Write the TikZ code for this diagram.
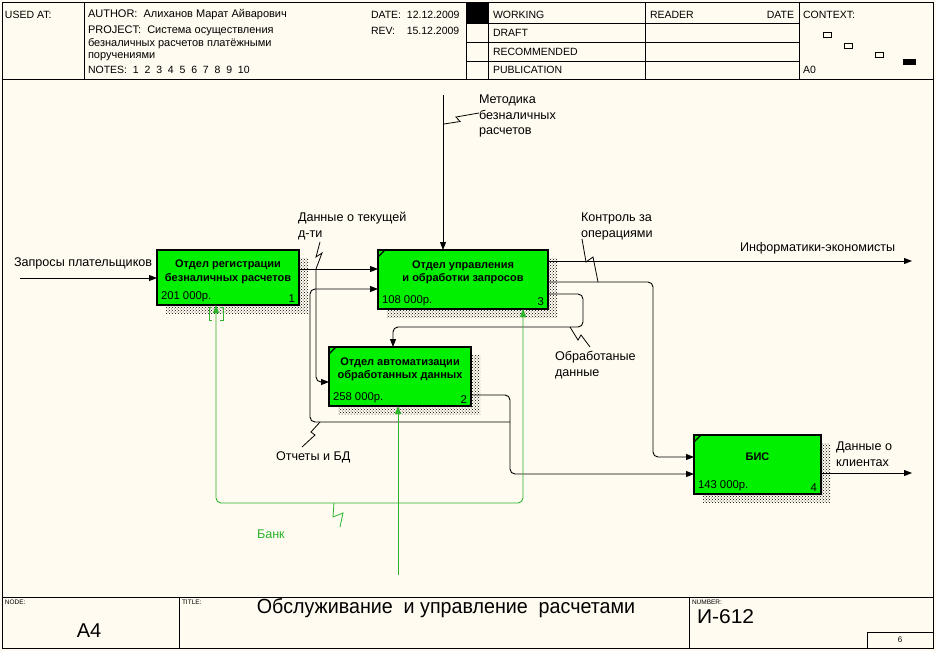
\documentclass[tikz,border=0pt]{standalone}
\usepackage{fontspec}
\setmainfont{Liberation Sans}
\usetikzlibrary{arrows.meta,patterns}
\definecolor{bg}{RGB}{255,251,240}
\definecolor{boxgreen}{RGB}{0,240,0}
\definecolor{mech}{RGB}{44,180,44}
\begin{document}
\begin{tikzpicture}[x=1pt,y=-1pt,
  every node/.style={inner sep=0pt,outer sep=0pt},
  hdr/.style={font=\fontsize{10.5}{12}\selectfont,anchor=west},
  hdrc/.style={font=\fontsize{11}{12}\selectfont,anchor=west},
  tinylbl/.style={font=\fontsize{6.5}{7}\selectfont,anchor=west},
  lbl/.style={font=\fontsize{12.6}{15.5}\selectfont,anchor=west,align=left},
  proc/.style={draw=black,line width=2.2pt,fill=boxgreen},
  ptitle/.style={font=\bfseries\fontsize{11}{13.5}\selectfont,align=center},
  pcost/.style={font=\fontsize{11.3}{13}\selectfont},
  shadowbox/.style={pattern=crosshatch dots,pattern color=black},
  conn/.style={draw=black,line width=0.9pt,rounded corners=5pt},
  mline/.style={draw=mech,line width=0.9pt,rounded corners=5pt},
  arr/.style={-{Triangle[length=8pt,width=6pt]}},
  frameline/.style={draw=black,line width=1pt},
  sq/.style={draw=black,line width=0.8pt},
  corner/.style={draw=black,line width=1.3pt}
]
\useasboundingbox (0,0) rectangle (936,651);
\fill[bg] (0,0) rectangle (936,651);

% ---------- frame ----------
\draw[frameline] (2.5,2.5) rectangle (933.5,648.5);
\draw[frameline] (2.5,79) -- (933.5,79);
\draw[frameline] (2.5,597) -- (933.5,597);
% header
\draw[frameline] (84,2.5) -- (84,79);
\draw[frameline] (466,2.5) -- (466,79);
\draw[frameline] (488,2.5) -- (488,79);
\draw[frameline] (645,2.5) -- (645,79);
\draw[frameline] (799,2.5) -- (799,79);
\draw[frameline] (466,23) -- (799,23);
\draw[frameline] (466,42) -- (799,42);
\draw[frameline] (466,61) -- (799,61);
\fill[black] (466,2.5) rectangle (488,23);
% context
\draw[line width=0.8pt] (823,32) rectangle (831,37);
\draw[line width=0.8pt] (844,43) rectangle (852,48);
\draw[line width=0.8pt] (875,52) rectangle (883,57);
\fill[black] (903,59) rectangle (916,65);

\node[hdr] (usedat) at (5,15) {USED AT:};
\node[hdrc] (author) at (88,15) {AUTHOR:\ \ Алиханов Марат Айварович};
\node[hdr] (date) at (371,15) {DATE:\ \ 12.12.2009};
\node[hdrc] (project) at (88,31) {PROJECT:\ \ Система осуществления};
\node[hdrc] (project2) at (88,44) {безналичных расчетов платёжными};
\node[hdrc] (project3) at (88,57) {поручениями};
\node[hdr] (notes) at (88,70) {NOTES:\ \ 1\ \ 2\ \ 3\ \ 4\ \ 5\ \ 6\ \ 7\ \ 8\ \ 9\ \ 10};
\node[hdr] (rev) at (371,31) {REV:\ \ \ \ 15.12.2009};
\node[hdr] (working) at (493,15) {WORKING};
\node[hdr] (draft) at (493,33) {DRAFT};
\node[hdr] (recom) at (493,52) {RECOMMENDED};
\node[hdr] (publ) at (493,70) {PUBLICATION};
\node[hdr] (reader) at (650,15) {READER};
\node[hdr,anchor=east] (rdate) at (794,15) {DATE};
\node[hdr] (context) at (803,15) {CONTEXT:};
\node[hdr] (a0) at (803,70) {A0};

% footer
\draw[frameline] (179,597) -- (179,648.5);
\draw[frameline] (689,597) -- (689,648.5);
\draw[frameline] (867,632) rectangle (933.5,648.5);
\node[tinylbl] (nodel) at (5,602.5) {NODE:};
\node[tinylbl] (titlel) at (182,602.5) {TITLE:};
\node[tinylbl] (numl) at (692,602.5) {NUMBER:};
\node[font=\fontsize{20}{22}\selectfont] (nodeval) at (89,631) {A4};
\node[font=\fontsize{20.5}{22}\selectfont] (title) at (446,608) {\scalebox{0.96}[1]{Обслуживание\ \ и управление\ \ расчетами}};
\node[font=\fontsize{20}{22}\selectfont,anchor=west] (number) at (697,617) {\scalebox{1.05}[1]{И-612}};
\node[font=\fontsize{8}{9}\selectfont] (page) at (900,640) {6};

% ---------- shadows ----------
\fill[shadowbox] (166,258) rectangle (308,313);
\fill[shadowbox] (387,258) rectangle (557,317);
\fill[shadowbox] (338,355) rectangle (480,414);
\fill[shadowbox] (703,443) rectangle (830,502);

% ---------- boxes ----------
\node[proc,minimum width=142pt,minimum height=55pt] (b1) at (228,277.5) {};
\node[proc,minimum width=170pt,minimum height=59pt] (b3) at (463,279.5) {};
\node[proc,minimum width=142pt,minimum height=59pt] (b2) at (400,376.5) {};
\node[proc,minimum width=127pt,minimum height=59pt] (b4) at (757.5,464.5) {};

\node[ptitle] (t1) at ([shift={(0,-5.5)}]b1.center) {Отдел регистрации\\безналичных расчетов};
\node[ptitle] (t3) at ([shift={(0,-7)}]b3.center) {Отдел управления\\и обработки запросов};
\node[ptitle] (t2) at ([shift={(0,-7)}]b2.center) {Отдел автоматизации\\обработанных данных};
\node[ptitle] (t4) at ([shift={(0,-7.5)}]b4.center) {БИС};

\node[pcost,anchor=south west] (c1) at ([shift={(4,-3)}]b1.south west) {201 000р.};
\node[pcost,anchor=south east] (n1) at ([shift={(-4,-3)}]b1.south east) {1};
\node[pcost,anchor=south west] (c3) at ([shift={(4,-3)}]b3.south west) {108 000р.};
\node[pcost,anchor=south east] (n3) at ([shift={(-4,-3)}]b3.south east) {3};
\node[pcost,anchor=south west] (c2) at ([shift={(4,-3)}]b2.south west) {258 000р.};
\node[pcost,anchor=south east] (n2) at ([shift={(-4,-3)}]b2.south east) {2};
\node[pcost,anchor=south west] (c4) at ([shift={(4,-3)}]b4.south west) {143 000р.};
\node[pcost,anchor=south east] (n4) at ([shift={(-4,-3)}]b4.south east) {4};

\draw[corner] ([shift={(0,7)}]b3.north west) -- ([shift={(7,0)}]b3.north west);
\draw[corner] ([shift={(0,7)}]b2.north west) -- ([shift={(7,0)}]b2.north west);
\draw[corner] ([shift={(0,7)}]b4.north west) -- ([shift={(7,0)}]b4.north west);

% ---------- coordinates ----------
\coordinate (inq) at (20,278);
\coordinate (ctl) at (443,95);
\coordinate (out1) at (912,261);
\coordinate (out4) at (912,473);
\coordinate (brA) at (316,269);
\coordinate (brB) at (510,422);
\coordinate (mech) at (398,575);
\coordinate (mj) at (398,503);

% ---------- connectors ----------
\draw[conn,arr] (inq) -- (b1.west |- inq);
\draw[conn,arr] (ctl) -- (ctl |- b3.north);
\draw[conn,arr] (b1.east |- brA) -- (b3.west |- brA);
\draw[conn,arr] (brA) -- (316,382) -- (b2.west |- 0,382);
\draw[conn,arr] (b2.east |- 0,395) -- (510,395) -- (510,474) -- (b4.west |- 0,474);
\draw[conn,arr] (brB) -- (310,422) -- (310,289) -- (b3.west |- 0,289);
\draw[conn,arr] (b3.east |- out1) -- (out1);
\draw[conn,arr] (b3.east |- 0,282) -- (653,282) -- (653,457) -- (b4.west |- 0,457);
\draw[conn,arr] (b3.east |- 0,294) -- (583,294) -- (583,327) -- (393,327) -- (b2.north -| 393,0);
\draw[conn,arr] (b4.east |- out4) -- (out4);

% mechanism
\draw[mline,arr] (mech) -- (mech |- b2.south);
\draw[mline,arr] (mj) -- (216,503) -- (216,400) -- (b1.south -| 216,0);
\draw[mline,arr] (mj) -- (523,503) -- (523,400) -- (b3.south -| 523,0);
\draw[draw=mech,line width=0.9pt] (212,307) -- (209,307) -- (209,320) -- (212,320);
\draw[draw=mech,line width=0.9pt] (220,307) -- (223,307) -- (223,320) -- (220,320);

% ---------- squiggles ----------
\draw[sq] (444,124) -- (460,121.5) -- (456,117) -- (479,113);
\draw[sq] (320,242) -- (316,257) -- (322,253) -- (316,269);
\draw[sq] (582,239) -- (586,262) -- (593,257) -- (598,282);
\draw[sq] (570,327) -- (578,340) -- (581,335) -- (590,347);
\draw[sq] (320,422) -- (311,432) -- (315,435) -- (302,447);
\draw[draw=mech,line width=0.8pt] (334,503) -- (333,517) -- (343,513) -- (340,527);

% ---------- labels ----------
\node[lbl] (lin) at (14,263) {Запросы плательщиков};
\node[lbl] (lcur) at (298,226) {Данные о текущей\\д-ти};
\node[lbl] (lmet) at (479,116) {Методика\\безналичных\\расчетов};
\node[lbl] (lctl) at (581,226.5) {Контроль за\\операциями};
\node[lbl] (linf) at (740,248) {Информатики-экономисты};
\node[lbl] (lobr) at (555,365) {Обработаные\\данные};
\node[lbl] (lotch) at (276,457) {Отчеты и БД};
\node[lbl] (lcli) at (836,454) {Данные о\\клиентах};
\node[lbl,text=mech] (lbank) at (257,534) {Банк};
\end{tikzpicture}
\end{document}
